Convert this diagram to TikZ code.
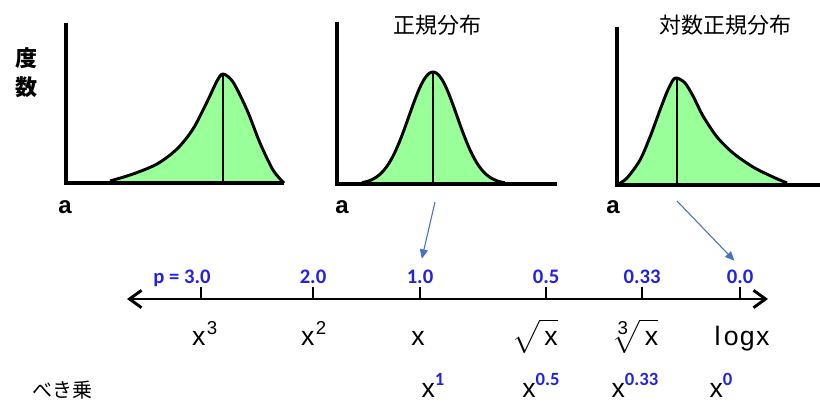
\documentclass[tikz,border=0pt]{standalone}
\usepackage{fontspec}
\usepackage{amsmath}
\setmainfont{Liberation Sans}
\newfontfamily\jpfont{Noto Sans CJK JP}
\newfontfamily\calfont{Carlito}
\usetikzlibrary{positioning, arrows.meta}
\definecolor{distGreen}{RGB}{153, 255, 153}
\definecolor{expBlue}{RGB}{34, 34, 230}
\definecolor{pointBlue}{RGB}{68, 114, 196}
\newcommand{\powX}[1]{x\raisebox{0.42em}{\calfont\bfseries\fontsize{14}{14}\selectfont\textcolor{expBlue}{#1}}}

\begin{document}
\begin{tikzpicture}[
    x=0.75pt, y=-0.75pt,
    axisline/.style={line width=2.5pt, line join=miter},
    dist/.style={draw=black, fill=distGreen, line width=2.2pt, line join=round},
    modeline/.style={line width=1.4pt},
    jptext/.style={font=\jpfont\fontsize{16.5}{20}\selectfont, inner sep=1pt},
    alabel/.style={font=\bfseries\fontsize{18}{20}\selectfont, inner sep=1pt},
    expval/.style={font=\calfont\bfseries\fontsize{15.5}{17}\selectfont, text=expBlue, anchor=base, inner sep=2pt},
    func/.style={font=\fontsize{20}{24}\selectfont, anchor=base, inner sep=1pt},
    pointer/.style={draw=pointBlue, line width=0.8pt, -{Triangle[length=7pt, width=6pt]}, shorten >=6pt},
    numline/.style={line width=2.2pt, {Straight Barb[length=9pt, width=13pt]}-{Straight Barb[length=9pt, width=13pt]}},
  ]
  \useasboundingbox (0,0) rectangle (820,401);

  % left-skewed
  \draw[dist] plot[smooth] coordinates {(110,181) (133,174) (157,164) (177,149) (193,129) (207,102) (217,81) (223,74) (233,82) (247,110) (260,143) (273,170) (284,183)};
  \draw[modeline] (223,74) -- (223,183);
  \draw[axisline] (66,23) -- (66,183) -- (284,183);

  % normal
  \draw[dist] plot[domain=362:505, samples=80, smooth] (\x, {184-112*exp(-((\x-433)^2)/1152)});
  \draw[line width=0.8pt] (433,72) -- (433,184);
  \draw[axisline] (337,22) -- (337,184) -- (557,184);

  % log-normal
  \draw[dist] plot[smooth] coordinates {(617,185) (627,178) (640,160) (650,137) (660,110) (667,92) (673,80) (677,78) (685,83) (693,96) (703,116) (717,137) (733,153) (753,167) (773,177) (787,183)};
  \draw[modeline] (677,78) -- (677,185);
  \draw[axisline] (617,27) -- (617,185) -- (820,185);

  \node[font=\jpfont\bfseries\fontsize{16.5}{22}\selectfont, align=center] (lblFreq) at (26,73) {度\\数};
  \node[jptext] (titleNormal) at (437,25) {正規分布};
  \node[jptext] (titleLogNormal) at (725,25) {対数正規分布};
  \node[alabel] (aSkew) at (65,207) {a};
  \node[alabel] (aNormal) at (342,207) {a};
  \node[alabel] (aLog) at (613,207) {a};

  \coordinate (lineL) at (127,299);
  \coordinate (lineR) at (768,299);
  \draw[numline] (lineL) -- (lineR);
  \draw[line width=2pt] (201,299) -- (201,287);
  \draw[line width=2pt] (313,299) -- (313,287);
  \draw[line width=2pt] (420,299) -- (420,287);
  \draw[line width=2pt] (546,299) -- (546,287);
  \draw[line width=2pt] (642,299) -- (642,287);
  \draw[line width=2pt] (740,299) -- (740,287);

  \node[expval] (p30) at (182,283) {p = 3.0};
  \node[expval] (p20) at (313,283) {2.0};
  \node[expval] (p10) at (420,283) {1.0};
  \node[expval] (p05) at (546,283) {0.5};
  \node[expval] (p033) at (642,283) {0.33};
  \node[expval] (p00) at (740,283) {0.0};

  \coordinate (peakNormal) at (435,202);
  \coordinate (peakLog) at (677,201);
  \draw[pointer] (peakNormal) -- (p10.north);
  \draw[pointer] (peakLog) -- (p00.north);

  \node[func] (fx3) at (205,345) {x\kern1pt\textsuperscript{3}};
  \node[func] (fx2) at (314,345) {x\kern1pt\textsuperscript{2}};
  \node[func] (fx1) at (418,345) {x};
  \node[func] (fsqrt) at (535,345) {$\sqrt{\mathstrut\,\text{x}}$};
  \node[func] (fcbrt) at (634,345) {$\sqrt[\scriptstyle\text{3}]{\mathstrut\,\text{x}}$};
  \node[func] (flog) at (742,345) {l\kern2.5pt o\kern1pt g\kern1pt x};

  \node[font=\jpfont\fontsize{15}{17}\selectfont] (lblPow) at (62,390) {べき乗};
  \node[func] (px1) at (433,397) {\powX{1}};
  \node[func] (px05) at (541,397) {\powX{0.5}};
  \node[func] (px033) at (635,397) {\powX{0.33}};
  \node[func] (px0) at (721,397) {\powX{0}};
\end{tikzpicture}
\end{document}
